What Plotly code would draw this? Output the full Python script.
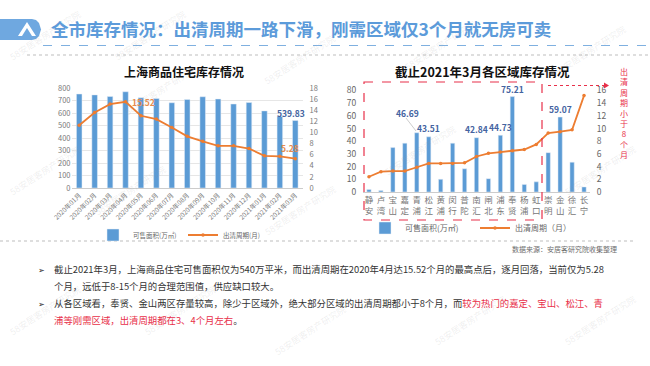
import plotly.graph_objects as go

W, H = 650, 366
BLUE = "#5B9BD5"; ORANGE = "#ED7D31"; LBL = "#44639F"; RED = "#E8304A"
FONT = "Noto Sans CJK SC"

months = ["2020年01月","2020年02月","2020年03月","2020年04月","2020年05月","2020年06月","2020年07月","2020年08月",
          "2020年09月","2020年10月","2020年11月","2020年12月","2021年01月","2021年02月","2021年03月"]
city_area = [752,745,732,770,722,716,682,708,730,712,672,684,617,572,539.83]
city_cycle = [11.3,13.6,15.1,15.52,13.0,12.4,10.9,9.3,8.4,7.6,7.6,7.1,5.8,5.7,5.28]

districts = ["静安","卢湾","宝山","嘉定","青浦","松江","黄浦","闵行","普陀","南汇","闸北","浦东","奉贤","杨浦","虹口","崇明","金山","徐汇","长宁"]
dist_area = [2,1.2,35,38.5,46.69,43.51,10,38.5,18.3,42.84,10.5,44.73,75.21,6,8,31,59.07,23.5,4]
dist_cycle = [2.4,3.2,3.3,3.3,3.9,4.5,4.5,4.5,4.6,5.6,6.1,6.3,6.5,6.7,7.5,9.3,9.5,9.8,15.2]

main_title = "全市库存情况：出清周期一路下滑，刚需区域仅3个月就无房可卖"
left_title = "上海商品住宅库存情况"
right_title = "截止2021年3月各区域库存情况"
source = "数据来源：安居客研究院收集整理"
side_note = "出清周期小于8个月"
watermark = "58安居客房产研究院"
body_lines = [
    "截止2021年3月，上海商品住宅可售面积仅为540万平米，而出清周期在2020年4月达15.52个月的最高点后，逐月回落，当前仅为5.28",
    "个月，远低于8-15个月的合理范围值，供应缺口较大。",
    "从各区域看，奉贤、金山两区存量较高，除少于区域外，绝大部分区域的出清周期都小于8个月，而<span style='color:#E8304A'>较为热门的嘉定、宝山、松江、青</span>",
    "<span style='color:#E8304A'>浦等刚需区域，出清周期都在3、4个月左右</span>。",
]

px = lambda v: v / W
py = lambda v: 1 - v / H

fig = go.Figure()
fig.add_bar(x=months, y=city_area, name="可售面积(万㎡)", marker_color=BLUE, width=0.36,
            xaxis="x", yaxis="y", legend="legend")
fig.add_scatter(x=months, y=city_cycle, name="出清周期(月)", mode="lines+markers",
                line=dict(color=ORANGE, width=1.8), marker=dict(color=ORANGE, size=3.5),
                xaxis="x", yaxis="y2", legend="legend")
fig.add_bar(x=districts, y=dist_area, name="可售面积(万㎡)", marker_color=BLUE, width=0.36,
            xaxis="x2", yaxis="y3", legend="legend2")
fig.add_scatter(x=districts, y=dist_cycle, name="出清周期（月）", mode="lines+markers",
                line=dict(color=ORANGE, width=1.8), marker=dict(color=ORANGE, size=3.5),
                xaxis="x2", yaxis="y4", legend="legend2")

shapes = []
def line(x0, y0, x1, y1, color, dash="dot", width=1):
    shapes.append(dict(type="line", xref="paper", yref="paper", x0=px(x0), x1=px(x1), y0=py(y0), y1=py(y1),
                       line=dict(color=color, dash=dash, width=width), layer="below"))

def poly(points, color):
    d = "M" + " L".join(f"{px(a):.5f},{py(b):.5f}" for a, b in points) + " Z"
    shapes.append(dict(type="path", xref="paper", yref="paper", path=d, fillcolor=color, line=dict(width=0)))

poly([(0,19),(32,19),(36,20),(39,23),(41,29.5),(39,36),(36,39),(32,40),(0,40)], "#6FA8E0")
poly([(18,36),(27,22),(36,36),(32,36),(27,28),(22,36)], "white")
line(43, 45.5, 650, 45.5, "#7FB0E0", "dash", 1)
line(27, 55, 650, 55, "#BDBDBD", "dot", 1)
line(0, 241, 633, 241, "#BDBDBD", "dot", 1)
shapes.append(dict(type="rect", xref="paper", yref="paper", x0=px(364), x1=px(542), y0=py(82), y1=py(220),
                   line=dict(color=RED, dash="dash", width=1.2)))
line(548, 85.5, 604, 85.5, RED, "dot", 1)
poly([(604,82.5),(609,85.5),(604,88.5)], RED)
line(406, 118, 416, 131, "#AAAAAA", "solid", 0.6)

ann = []
def text(x, y, s, size, color, anchor="left", bold=False, angle=0):
    ann.append(dict(xref="paper", yref="paper", x=px(x), y=py(y), text=f"<b>{s}</b>" if bold else s, showarrow=False,
                    xanchor=anchor, yanchor="middle", textangle=angle,
                    font=dict(size=size, color=color, family=FONT)))

for wx, wy in [(45,35),(150,35),(300,60),(440,45),(590,50),(45,170),(130,190),(300,210),(420,150),(600,170),
               (45,310),(180,310),(310,330),(470,320),(600,320),(160,90)]:
    text(wx, wy, watermark, 9, "rgba(150,150,150,0.16)", "center", angle=-33)

text(49, 29, main_title, 17.5, "#5C9BDA", bold=True)
text(184, 71, left_title, 12, "#111111", "center", bold=True)
text(482, 71, right_title, 12.5, "#111111", "center", bold=True)
text(564, 249, source, 7, "#6E6E6E", "center")
text(624, 113, "<br>".join(side_note), 8, RED, "center")

ys = [269, 286, 303, 320]
for y, s in zip(ys, body_lines):
    text(52, y, s, 9.4, "#333333")
text(41, ys[0], "➢", 8, "#222222", "center")
text(41, ys[2], "➢", 8, "#222222", "center")

def data_label(xa, ya, x, y, s, color, size, dx=0, dy=0):
    ann.append(dict(xref=xa, yref=ya, x=x, y=y, text=f"<b>{s}</b>", showarrow=False, xshift=dx, yshift=dy,
                    font=dict(size=size, color=color, family=FONT)))

data_label("x", "y2", months[3], city_cycle[3], "15.52", "#E58B4E", 8.5, 18, 0)
data_label("x", "y", months[14], city_area[14], "539.83", LBL, 8.5, -4, 8)
data_label("x", "y2", months[14], city_cycle[14], "5.28", "#E58B4E", 8.5, -5, 11)
for name, dx, dy in [("青浦", -9, 20), ("松江", 0, 9), ("南汇", 0, 9), ("浦东", 0, 8), ("奉贤", 0, 8), ("金山", 0, 8)]:
    i = districts.index(name)
    data_label("x2", "y3", name, dist_area[i], f"{dist_area[i]:.2f}", LBL, 8.5, dx, dy)

grid = "#E6E6E6"
tick = dict(size=7.5, color="#7A7A7A", family=FONT)
tick2 = dict(size=8.5, color="#666666", family=FONT)
pad = dict(ticks="outside", ticklen=4, tickcolor="rgba(0,0,0,0)")
fig.update_layout(
    width=W, height=H, margin=dict(l=0, r=0, t=0, b=0), paper_bgcolor="white", plot_bgcolor="white",
    barmode="overlay", font=dict(family=FONT), shapes=shapes, annotations=ann,
    xaxis=dict(domain=[px(71.5), px(303)], anchor="y", tickangle=-45, tickfont=dict(size=6.5, color="#7A7A7A", family=FONT),
               range=[-0.5, len(months) - 0.5],
               showline=True, linecolor="#CCCCCC", ticks="", showgrid=False, automargin=False),
    yaxis=dict(domain=[py(188), py(88)], anchor="x", range=[0, 800], dtick=100, tickfont=tick, gridcolor=grid, zeroline=False, automargin=False),
    yaxis2=dict(domain=[py(188), py(88)], anchor="x", overlaying="y", side="right", range=[0, 18], dtick=2,
                tickfont=tick, showgrid=False, zeroline=False, automargin=False, **pad),
    xaxis2=dict(domain=[px(363), px(590)], anchor="y3", tickmode="array", tickvals=districts,
                range=[-0.5, len(districts) - 0.5],
                ticktext=[f"{d[0]}<br>{d[1]}" for d in districts], tickangle=0, tickfont=dict(size=8.5, color="#777777", family=FONT),
                showline=True, linecolor="#CCCCCC", ticks="", showgrid=False, automargin=False),
    yaxis3=dict(domain=[py(192), py(90.5)], anchor="x2", range=[0, 80], dtick=10, tickfont=tick2, showgrid=False, zeroline=False, automargin=False, **pad),
    yaxis4=dict(domain=[py(192), py(90.5)], anchor="x2", overlaying="y3", side="right", range=[0, 16], dtick=2,
                tickfont=tick2, showgrid=False, zeroline=False, automargin=False, **pad),
    legend=dict(orientation="h", x=px(183), xanchor="center", y=py(235), yanchor="middle", entrywidth=45,
                font=dict(size=6.5, color="#666666"), itemwidth=30, bgcolor="rgba(0,0,0,0)"),
    legend2=dict(orientation="h", x=px(475), xanchor="center", y=py(228), yanchor="middle", entrywidth=65,
                 font=dict(size=8, color="#666666"), itemwidth=30, bgcolor="rgba(0,0,0,0)"),
    showlegend=True,
)
fig.write_html("out.html", post_script="document.body.style.margin='0';", config={"displayModeBar": False})
